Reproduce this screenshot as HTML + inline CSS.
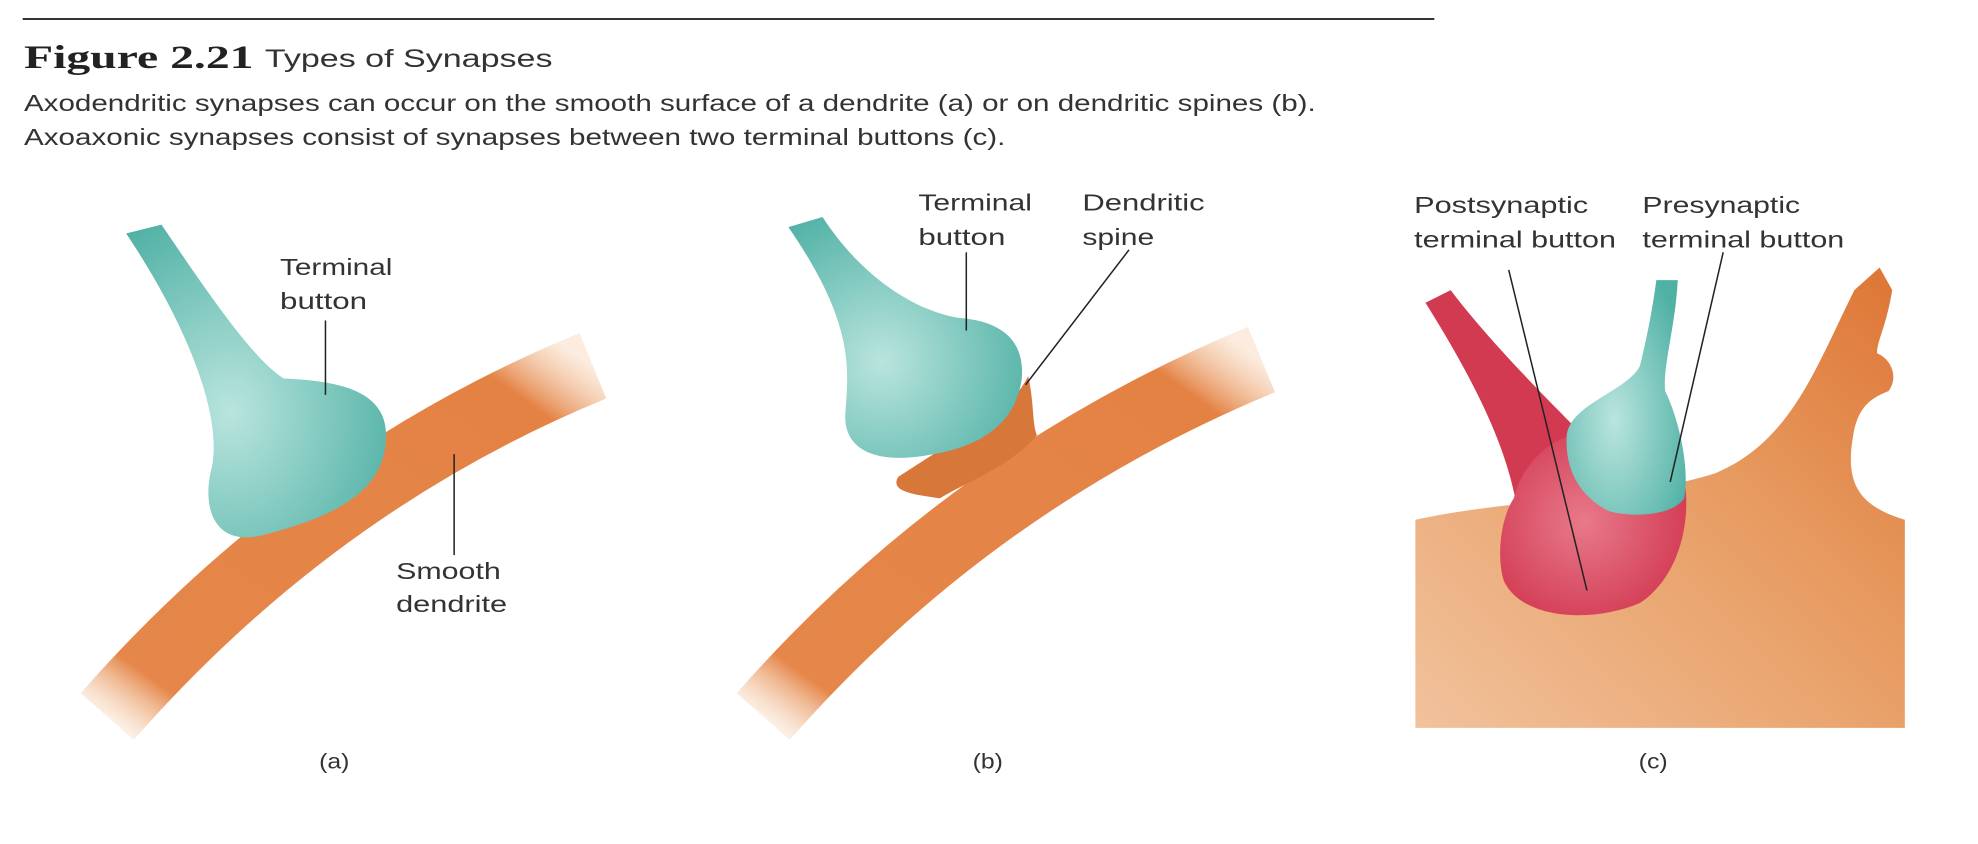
<!DOCTYPE html>
<html><head><meta charset="utf-8"><style>
html,body{margin:0;padding:0;background:#fff;width:1978px;height:844px;overflow:hidden}
svg{display:block}
text{font-family:"Liberation Sans",sans-serif;fill:#333}
</style></head><body>
<svg width="1978" height="844" viewBox="0 0 1568 669" xmlns="http://www.w3.org/2000/svg">
<defs>
<linearGradient id="or" x1="0" y1="1" x2="1" y2="0">
<stop offset="0" stop-color="#f3c9a4" stop-opacity="0.3"/><stop offset="0.1" stop-color="#e5874a"/><stop offset="0.88" stop-color="#e48244"/><stop offset="1" stop-color="#f6d1b0" stop-opacity="0.4"/></linearGradient>
<radialGradient id="tb" cx="0.4" cy="0.6" r="0.7"><stop offset="0" stop-color="#b9e5de"/><stop offset="1" stop-color="#4fb0a4"/></radialGradient>
<linearGradient id="cbody" x1="0" y1="1" x2="1" y2="0"><stop offset="0" stop-color="#f1c29c"/><stop offset="0.6" stop-color="#e79a5f"/><stop offset="1" stop-color="#dd7434"/></linearGradient>
<radialGradient id="rb" cx="0.45" cy="0.5" r="0.6"><stop offset="0" stop-color="#e8798a"/><stop offset="1" stop-color="#d23a52"/></radialGradient>
</defs>
<line x1="18" y1="15" x2="1137" y2="15" stroke="#333" stroke-width="1.6"/>
<text x="19" y="54" textLength="182" lengthAdjust="spacingAndGlyphs" style="font-family:'Liberation Serif',serif;font-weight:bold;font-size:26px;fill:#222">Figure 2.21</text>
<text x="210" y="53" textLength="228" lengthAdjust="spacingAndGlyphs" font-size="20">Types of Synapses</text>
<text x="19" y="88" textLength="1024" lengthAdjust="spacingAndGlyphs" font-size="18.5">Axodendritic synapses can occur on the smooth surface of a dendrite (a) or on dendritic spines (b).</text>
<text x="19" y="115" textLength="778" lengthAdjust="spacingAndGlyphs" font-size="18.5">Axoaxonic synapses consist of synapses between two terminal buttons (c).</text>

<!-- panel a -->
<path d="M85,568 Q250,380 470,290" stroke="url(#or)" stroke-width="56" fill="none"/>
<path d="M100,185 L128,178 C160,225 200,285 225,300 C270,302 306,310 306,345 C306,390 265,410 205,425 C168,432 160,400 168,370 C176,330 150,260 100,185 Z" fill="url(#tb)"/>
<line x1="258" y1="254" x2="258" y2="313" stroke="#222" stroke-width="1.2"/>
<line x1="360" y1="360" x2="360" y2="440" stroke="#222" stroke-width="1.2"/>
<text x="222" y="218" font-size="18.5" textLength="89" lengthAdjust="spacingAndGlyphs">Terminal</text><text x="222" y="245" font-size="18.5" textLength="69" lengthAdjust="spacingAndGlyphs">button</text>
<text x="314" y="459" font-size="18.5" textLength="83" lengthAdjust="spacingAndGlyphs">Smooth</text><text x="314" y="485" font-size="18.5" textLength="88" lengthAdjust="spacingAndGlyphs">dendrite</text>
<text x="253" y="609" font-size="17" textLength="24" lengthAdjust="spacingAndGlyphs">(a)</text>

<!-- panel b -->
<path d="M605,568 Q770,380 1000,285" stroke="url(#or)" stroke-width="56" fill="none"/>
<path d="M740,360 C760,345 800,330 815,298 C820,320 818,335 822,345 C800,370 770,380 745,395 C725,392 705,390 712,378 Z" fill="#d8773a"/>
<path d="M625,180 L652,172 C680,215 720,245 760,252 C800,255 812,275 810,300 C805,340 770,355 740,360 C700,368 670,360 670,330 C672,295 680,260 625,180 Z" fill="url(#tb)"/>
<line x1="766" y1="200" x2="766" y2="262" stroke="#222" stroke-width="1.2"/>
<line x1="895" y1="198" x2="813" y2="305" stroke="#222" stroke-width="1.2"/>
<text x="728" y="167" font-size="18.5" textLength="90" lengthAdjust="spacingAndGlyphs">Terminal</text><text x="728" y="194" font-size="18.5" textLength="69" lengthAdjust="spacingAndGlyphs">button</text>
<text x="858" y="167" font-size="18.5" textLength="97" lengthAdjust="spacingAndGlyphs">Dendritic</text><text x="858" y="194" font-size="18.5" textLength="57" lengthAdjust="spacingAndGlyphs">spine</text>
<text x="771" y="609" font-size="17" textLength="24" lengthAdjust="spacingAndGlyphs">(b)</text>

<!-- panel c -->
<path d="M1122,412 C1200,395 1300,395 1360,375 C1420,350 1440,290 1470,230 L1490,212 L1500,230 C1495,260 1488,270 1488,280 C1500,285 1505,300 1497,310 C1485,315 1475,320 1470,340 C1462,380 1470,400 1510,412 L1510,577 L1122,577 Z" fill="url(#cbody)"/>
<path d="M1130,240 L1150,230 C1180,270 1230,320 1250,340 L1205,420 C1200,370 1180,320 1130,240 Z" fill="#d23a52"/>
<path d="M1200,395 C1215,335 1290,325 1330,360 C1345,400 1335,455 1300,478 C1260,495 1205,490 1192,460 C1186,440 1190,410 1200,395 Z" fill="url(#rb)"/>
<path d="M1313,222 L1330,222 C1328,260 1318,290 1320,310 C1330,330 1340,370 1335,395 C1325,410 1290,410 1275,405 C1255,395 1240,375 1242,345 C1245,320 1290,310 1300,290 C1305,270 1310,245 1313,222 Z" fill="url(#tb)"/>
<line x1="1196" y1="214" x2="1258" y2="468" stroke="#222" stroke-width="1.2"/>
<line x1="1366" y1="200" x2="1324" y2="382" stroke="#222" stroke-width="1.2"/>
<text x="1121" y="169" font-size="18.5" textLength="138" lengthAdjust="spacingAndGlyphs">Postsynaptic</text><text x="1121" y="196" font-size="18.5" textLength="160" lengthAdjust="spacingAndGlyphs">terminal button</text>
<text x="1302" y="169" font-size="18.5" textLength="125" lengthAdjust="spacingAndGlyphs">Presynaptic</text><text x="1302" y="196" font-size="18.5" textLength="160" lengthAdjust="spacingAndGlyphs">terminal button</text>
<text x="1299" y="609" font-size="17" textLength="23" lengthAdjust="spacingAndGlyphs">(c)</text>
</svg>
</body></html>
